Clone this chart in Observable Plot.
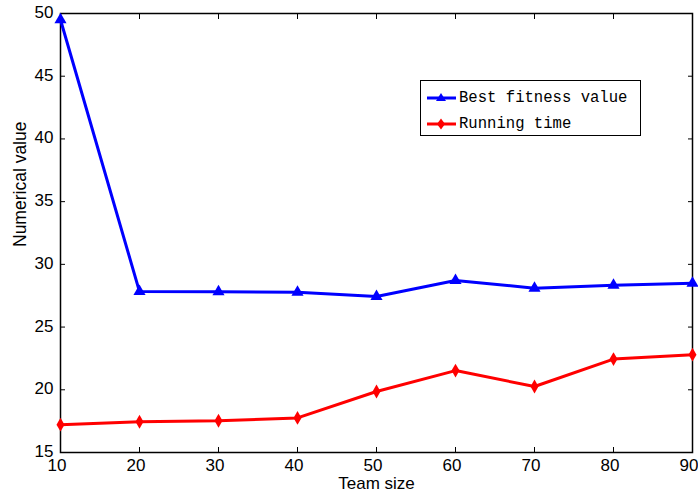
<!DOCTYPE html>
<html>
<head>
<meta charset="utf-8">
<script src="https://cdn.jsdelivr.net/npm/d3@7"></script>
<script src="https://cdn.jsdelivr.net/npm/@observablehq/plot@0.6"></script>
<style>
  html, body { margin: 0; padding: 0; background: #fff; }
  #wrap { position: relative; width: 698px; height: 492px; }
  #legend { position: absolute; left: 420px; top: 80px; width: 219px; height: 54px;
    border: 1.5px solid #000; background: #fff; font-family: "Liberation Mono", "DejaVu Sans Mono", monospace; font-size: 15.6px; }
  .row { position: absolute; left: 0; height: 20px; display: flex; align-items: center; }
  .row span { margin-left: 3px; }
</style>
</head>
<body>
<div id="wrap"></div>
<script>
const teamSize = [10, 20, 30, 40, 50, 60, 70, 80, 90];
const bestFitness = [49.5, 27.83, 27.82, 27.77, 27.43, 28.72, 28.1, 28.33, 28.5];
const runningTime = [17.22, 17.45, 17.53, 17.76, 19.86, 21.53, 20.26, 22.45, 22.8];
const seriesNames = ["Best fitness value", "Running time"];
const seriesColors = ["#0000ff", "#ff0000"];
const xTicks = [10, 20, 30, 40, 50, 60, 70, 80, 90];
const yTicks = [15, 20, 25, 30, 35, 40, 45, 50];

const blue = teamSize.map((x, i) => ({x, y: bestFitness[i]}));
const red = teamSize.map((x, i) => ({x, y: runningTime[i]}));

const font = "Liberation Sans, Arial, sans-serif";
const chart = Plot.plot({
  width: 698,
  height: 492,
  marginLeft: 60,
  marginRight: 6,
  marginTop: 13,
  marginBottom: 40,
  style: {fontFamily: font, fontSize: "16px", background: "#fff", color: "#000"},
  x: {domain: [10, 90], ticks: xTicks},
  y: {domain: [15, 50], ticks: yTicks},
  marks: [
    Plot.frame({stroke: "#000", strokeWidth: 1.5}),
    Plot.axisX(xTicks, {anchor: "bottom", tickSize: -5, tickFormat: () => "", label: null}),
    Plot.axisX(xTicks, {anchor: "bottom", tickSize: 0, tickPadding: 6, dx: -3.5, fontSize: 17, label: null}),
    Plot.axisX(xTicks, {anchor: "top", tickSize: -5, tickFormat: () => "", label: null}),
    Plot.axisY(yTicks, {anchor: "left", tickSize: -5, tickFormat: () => "", label: null}),
    Plot.axisY(yTicks, {anchor: "left", tickSize: 0, tickPadding: 7, dy: -1, fontSize: 17, label: null}),
    Plot.axisY(yTicks, {anchor: "right", tickSize: -5, tickFormat: () => "", label: null}),
    Plot.text(["Team size"], {frameAnchor: "bottom", dy: 36.5, dx: 0, fontSize: 17}),
    Plot.text(["Numerical value"], {frameAnchor: "left", dx: -40, dy: 14, rotate: -90, fontSize: 17.5}),
    Plot.line(blue, {x: "x", y: "y", stroke: seriesColors[0], strokeWidth: 3}),
    Plot.dot(blue, {x: "x", y: "y", symbol: "triangle", r: 4.5, fill: seriesColors[0]}),
    Plot.line(red, {x: "x", y: "y", stroke: seriesColors[1], strokeWidth: 3}),
    Plot.dot(red, {x: "x", y: "y", symbol: "diamond", r: 4.2, fill: seriesColors[1]})
  ]
});
const wrap = document.getElementById("wrap");
wrap.appendChild(chart);

const legend = document.createElement("div");
legend.id = "legend";
seriesNames.forEach((name, i) => {
  const row = document.createElement("div");
  row.className = "row";
  row.style.top = (7 + i * 26) + "px";
  row.style.left = "6px";
  const sym = i === 0
    ? `<path d="M14,5 L19,13 L9,13 Z" fill="${seriesColors[i]}"/>`
    : `<path d="M14,4.5 L18,10 L14,15.5 L10,10 Z" fill="${seriesColors[i]}"/>`;
  row.innerHTML = `<svg width="29" height="20"><line x1="0" x2="29" y1="10" y2="10" stroke="${seriesColors[i]}" stroke-width="3"/>${sym}</svg><span>${name}</span>`;
  legend.appendChild(row);
});
wrap.appendChild(legend);
</script>
</body>
</html>
